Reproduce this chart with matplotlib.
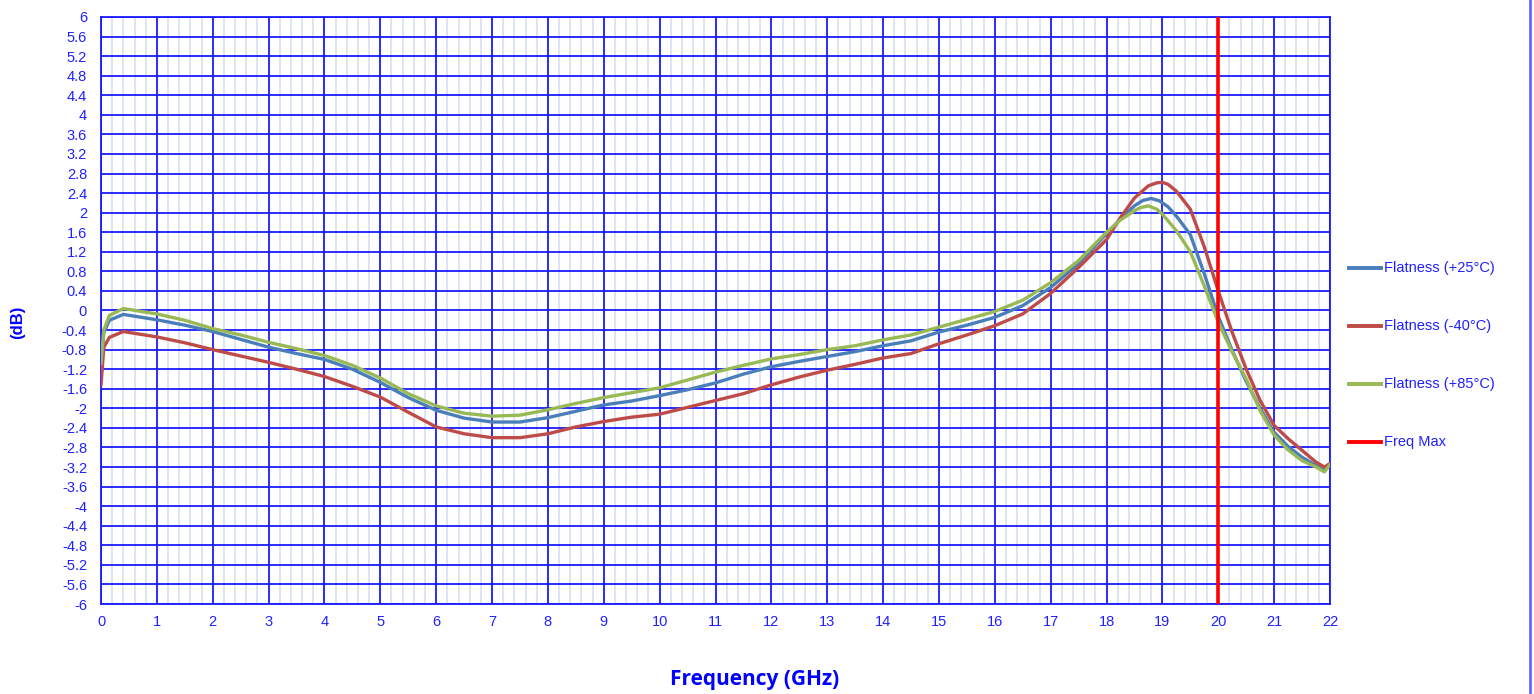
import numpy as np
import matplotlib
matplotlib.use("Agg")
import matplotlib.pyplot as plt
from matplotlib.lines import Line2D

plt.rcParams['font.family'] = ['Liberation Sans', 'DejaVu Sans']

# Frequency points (GHz) and flatness (dB) for each temperature
freq_25 = [0, 0.05, 0.15, 0.4, 1, 1.5, 2, 2.5, 3, 3.5, 4, 4.5, 5, 5.5, 6, 6.5, 7, 7.5, 8, 8.5,
           9, 9.5, 10, 10.5, 11, 11.5, 12, 12.5, 13, 13.5, 14, 14.5, 15, 15.5, 16, 16.5, 17,
           17.5, 18, 18.25, 18.5, 18.65, 18.8, 18.95, 19.1, 19.25, 19.5, 19.75, 20, 20.25,
           20.5, 20.75, 21, 21.25, 21.5, 21.75, 21.9, 22]
flat_25 = [-1.13, -0.45, -0.2, -0.08, -0.19, -0.3, -0.43, -0.59, -0.75, -0.88, -1.0, -1.2,
           -1.47, -1.78, -2.04, -2.2, -2.28, -2.28, -2.19, -2.06, -1.93, -1.85, -1.74, -1.62,
           -1.48, -1.3, -1.15, -1.04, -0.94, -0.84, -0.72, -0.62, -0.44, -0.3, -0.14, 0.1,
           0.47, 0.96, 1.57, 1.87, 2.14, 2.25, 2.29, 2.24, 2.12, 1.93, 1.55, 0.75, -0.12,
           -0.82, -1.45, -2.0, -2.49, -2.78, -3.0, -3.17, -3.25, -3.13]

freq_m40 = [0, 0.05, 0.15, 0.4, 1, 1.5, 2, 2.5, 3, 3.5, 4, 4.5, 5, 5.5, 6, 6.5, 7, 7.5, 8, 8.5,
            9, 9.5, 10, 10.5, 11, 11.5, 12, 12.5, 13, 13.5, 14, 14.5, 15, 15.5, 16, 16.5, 17,
            17.5, 18, 18.25, 18.5, 18.75, 18.9, 19, 19.1, 19.25, 19.5, 19.75, 20, 20.25,
            20.5, 20.75, 21, 21.25, 21.5, 21.75, 21.9, 22]
flat_m40 = [-1.53, -0.75, -0.55, -0.43, -0.54, -0.66, -0.8, -0.93, -1.06, -1.2, -1.35, -1.55,
            -1.77, -2.08, -2.38, -2.52, -2.6, -2.6, -2.52, -2.38, -2.27, -2.18, -2.12, -1.98,
            -1.84, -1.7, -1.52, -1.36, -1.22, -1.1, -0.97, -0.88, -0.68, -0.5, -0.31, -0.07,
            0.35, 0.88, 1.45, 1.9, 2.3, 2.55, 2.61, 2.62, 2.58, 2.44, 2.07, 1.3, 0.4, -0.45,
            -1.2, -1.84, -2.35, -2.62, -2.86, -3.1, -3.2, -3.13]

freq_85 = [0, 0.05, 0.15, 0.4, 1, 1.5, 2, 2.5, 3, 3.5, 4, 4.5, 5, 5.5, 6, 6.5, 7, 7.5, 8, 8.5,
           9, 9.5, 10, 10.5, 11, 11.5, 12, 12.5, 13, 13.5, 14, 14.5, 15, 15.5, 16, 16.5, 17,
           17.5, 18, 18.25, 18.5, 18.6, 18.75, 18.9, 19, 19.25, 19.5, 19.75, 20, 20.25,
           20.5, 20.75, 21, 21.25, 21.5, 21.75, 21.9, 22]
flat_85 = [-1.09, -0.4, -0.1, 0.04, -0.07, -0.2, -0.37, -0.5, -0.65, -0.78, -0.92, -1.12,
           -1.38, -1.7, -1.95, -2.1, -2.16, -2.14, -2.03, -1.9, -1.78, -1.68, -1.58, -1.42,
           -1.26, -1.12, -0.99, -0.9, -0.8, -0.72, -0.6, -0.5, -0.34, -0.18, -0.02, 0.21,
           0.57, 1.02, 1.6, 1.85, 2.04, 2.1, 2.14, 2.07, 1.97, 1.63, 1.2, 0.5, -0.24, -0.85,
           -1.4, -2.05, -2.55, -2.85, -3.07, -3.2, -3.3, -3.15]

freq_max = 20.0

x_ticks = list(range(0, 23))
y_ticks = [-6, -5.6, -5.2, -4.8, -4.4, -4, -3.6, -3.2, -2.8, -2.4, -2, -1.6, -1.2, -0.8,
           -0.4, 0, 0.4, 0.8, 1.2, 1.6, 2, 2.4, 2.8, 3.2, 3.6, 4, 4.4, 4.8, 5.2, 5.6, 6]
y_tick_labels = ['-6', '-5.6', '-5.2', '-4.8', '-4.4', '-4', '-3.6', '-3.2', '-2.8', '-2.4',
                 '-2', '-1.6', '-1.2', '-0.8', '-0.4', '0', '0.4', '0.8', '1.2', '1.6', '2',
                 '2.4', '2.8', '3.2', '3.6', '4', '4.4', '4.8', '5.2', '5.6', '6']

series_names = ['Flatness (+25°C)', 'Flatness (-40°C)', 'Flatness (+85°C)', 'Freq Max']
series_colors = ['#4a7ebb', '#be4b48', '#98b954', '#ff0000']

W, H = 1534, 694
fig = plt.figure(figsize=(W / 100, H / 100), dpi=100)
ax = fig.add_axes([101 / W, 1 - 604 / H, (1330 - 101) / W, (604 - 17) / H])

ax.set_xlim(0, 22)
ax.set_ylim(-6, 6)

# grid: light minor verticals, blue major lines
for xm in np.arange(0.2, 22, 0.2):
    if abs(xm - round(xm)) > 1e-6:
        ax.axvline(xm, color='#d3deef', lw=1.1, zorder=1)
for xv in x_ticks:
    ax.axvline(xv, color='#1a1aff', lw=1.3, zorder=1.5)
for yv in y_ticks:
    ax.axhline(yv, color='#1a1aff', lw=1.3, zorder=1.5)

lw = 2.4
ax.plot(freq_25, flat_25, color=series_colors[0], lw=lw, zorder=3,
        solid_joinstyle='round', solid_capstyle='round')
ax.plot(freq_m40, flat_m40, color=series_colors[1], lw=lw, zorder=3,
        solid_joinstyle='round', solid_capstyle='round')
ax.plot(freq_85, flat_85, color=series_colors[2], lw=lw, zorder=3,
        solid_joinstyle='round', solid_capstyle='round')
ax.axvline(freq_max, color=series_colors[3], lw=2.6, zorder=4)

for s in ax.spines.values():
    s.set_color('#1a1aff')
    s.set_linewidth(1.3)

ax.set_xticks(x_ticks)
ax.set_xticklabels([str(v) for v in x_ticks])
ax.set_yticks(y_ticks)
ax.set_yticklabels(y_tick_labels)
ax.tick_params(axis='both', length=0, labelcolor='#2020ff', labelsize=10.5)
ax.tick_params(axis='y', pad=10)
ax.tick_params(axis='x', pad=8)

fig.text(18 / W, 1 - 322 / H, '(dB)', rotation=90, ha='center', va='center',
         color='#0000ff', fontsize=12, fontweight='bold')
fig.text(755 / W, 1 - 680 / H, 'Frequency (GHz)', ha='center', va='center',
         color='#0000ff', fontsize=15, fontweight='bold', family=['Open Sans', 'DejaVu Sans'])

# legend entries to the right of the plot
leg_y = [268, 326, 384, 442]
for name, col, yy in zip(series_names, series_colors, leg_y):
    fig.add_artist(Line2D([1349 / W, 1381 / W], [1 - yy / H, 1 - yy / H],
                          color=col, lw=2.8, transform=fig.transFigure))
    fig.text(1384 / W, 1 - yy / H, name, ha='left', va='center',
             color='#2020ff', fontsize=10.5)

# right border of the chart
fig.add_artist(Line2D([1530 / W, 1530 / W], [0, 1], color='#6666ff', lw=2,
                      transform=fig.transFigure))

fig.savefig('out.png', dpi=100)
